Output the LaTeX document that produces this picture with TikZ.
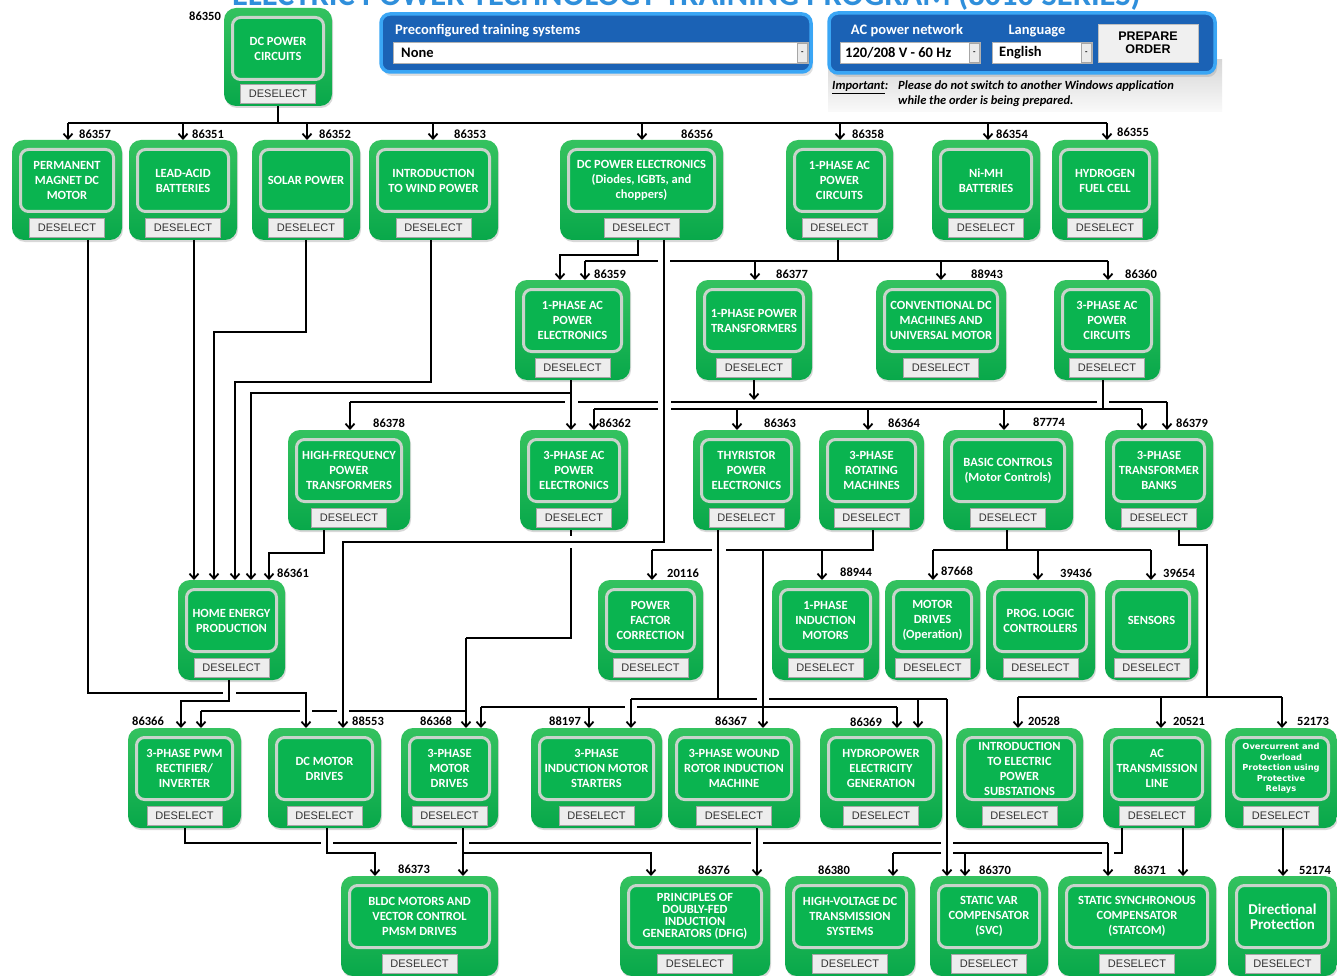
\documentclass[tikz,border=0pt]{standalone}
\usepackage{fontspec}
\setmainfont{Carlito}
\newfontfamily\arialfont{Liberation Sans}
\newfontfamily\dejafont{DejaVu Sans}
\usetikzlibrary{arrows.meta,shadows}

\definecolor{boxtop}{HTML}{34C25F}
\definecolor{boxbot}{HTML}{08A84A}
\definecolor{panelgreen}{HTML}{0AB450}
\definecolor{panelrim}{HTML}{C9D3CB}
\definecolor{bluedeep}{HTML}{1B62B5}
\definecolor{blueedge}{HTML}{3AA6F5}
\definecolor{titleblue}{HTML}{2F8FDB}
\definecolor{btngray}{HTML}{EDEDED}

\tikzset{
  outerbox/.style={rounded corners=12pt,top color=boxtop,bottom color=boxbot,inner sep=0pt,outer sep=0pt,
    drop shadow={shadow xshift=1pt,shadow yshift=-2pt,opacity=.3}},
  panel/.style={rounded corners=8pt,fill=panelgreen,draw=panelrim,line width=3pt,minimum height=62pt,inner sep=0pt},
  ctext/.style={text=white,font=\fontsize{12.5}{15}\selectfont\bfseries,align=center,inner sep=0pt},
  deselect/.style={fill=btngray,draw=black!35,line width=.5pt,minimum width=75pt,minimum height=19pt,inner sep=0pt,
    font=\arialfont\fontsize{11}{11}\selectfont,text=black!80},
  numlabel/.style={font=\fontsize{12.5}{12}\selectfont\bfseries,inner sep=0pt},
  wire/.style={line width=1.8pt},
  arr/.style={wire,-{Straight Barb[length=5pt,width=9pt]}},
  bluepanel/.style={rounded corners=9pt,fill=bluedeep,draw=blueedge,line width=3.5pt,
    drop shadow={shadow xshift=2pt,shadow yshift=-4pt,opacity=.25}},
  hdtext/.style={text=white,font=\fontsize{14.5}{15}\selectfont\bfseries,inner sep=0pt},
  combo/.style={fill=white,draw=black!30,line width=.6pt,minimum height=21pt,inner sep=0pt},
  combotext/.style={font=\fontsize{14.5}{15}\selectfont\bfseries,inner sep=0pt},
  dropbtn/.style={fill=black!8,draw=black!35,line width=.4pt,minimum width=10pt,minimum height=19pt,inner sep=0pt,
    font=\fontsize{8}{8}\selectfont\bfseries},
  orderbtn/.style={fill=black!6,draw=black!25,line width=.6pt,align=center,inner sep=0pt,
    font=\arialfont\fontsize{12.5}{13}\selectfont\bfseries},
  imptext/.style={font=\fontsize{12.5}{12}\selectfont\bfseries\itshape,inner sep=0pt}
}

%% one course block: [text options]{name}{x1}{y1}{x2}{y2}{title}{number}{number position}
\newcommand{\Course}[9][]{%
  \node[outerbox,minimum width={(#5-#3)*1pt},minimum height={(#6-#4)*1pt}] (#2) at ({(#3+#5)/2},{(#4+#6)/2}) {};
  \node[panel,minimum width={(#5-#3-17)*1pt},anchor=north] (#2-in) at ([yshift=-8pt]#2.north) {};
  \node[ctext,#1] (#2-txt) at (#2-in) {#7};
  \node[deselect] (#2-btn) at ([yshift=12pt]#2.south) {DESELECT};
  \node[numlabel] (#2-no) at (#9) {#8};
}

\begin{document}
\begin{tikzpicture}[x=1pt,y=-1pt]
    \useasboundingbox[fill=white] (0,0) rectangle (1337,976);
    %% Title, cut by the top edge
    \node[font=\fontsize{32.5}{33}\selectfont\bfseries,text=titleblue,anchor=base west,inner sep=0pt] (title) at (232,6)
      {ELECTRIC POWER TECHNOLOGY TRAINING PROGRAM (8010 SERIES)};
    %% Preconfigured systems panel
    \node[bluepanel,minimum width=430pt,minimum height=58pt] (presys) at (596,43) {};
    \node[hdtext,anchor=west] (presys-t) at (395,31) {Preconfigured training systems};
    \node[combo,minimum width=415pt,anchor=north west] (presys-c) at (393,42) {};
    \node[combotext,anchor=west] (presys-v) at (401,53) {None};
    \node[dropbtn,anchor=east] (presys-d) at ([xshift=-1pt]presys-c.east) {-};
    %% Network / language panel
    \fill[top color=black!16,bottom color=black!2] (828,60) rectangle (1222,112);
    \node[bluepanel,minimum width=386pt,minimum height=60pt] (acnet) at (1022,43) {};
    \node[hdtext] (acnet-t) at (907,31) {AC power network};
    \node[hdtext] (lang-t) at (1037,31) {Language};
    \node[combo,minimum width=140pt,anchor=north west] (acnet-c) at (840,42) {};
    \node[combotext,anchor=west] (acnet-v) at (845,53) {120/208 V - 60 Hz};
    \node[dropbtn,anchor=east] (acnet-d) at ([xshift=-1pt]acnet-c.east) {-};
    \node[combo,minimum width=100pt,anchor=north west] (lang-c) at (992,42) {};
    \node[combotext,anchor=west] (lang-v) at (999,53) {English};
    \node[dropbtn,anchor=east] (lang-d) at ([xshift=-1pt]lang-c.east) {-};
    \node[orderbtn,minimum width=100pt,minimum height=38pt] (order) at (1148,43) {PREPARE\\ORDER};
    \node[imptext,anchor=base west] (imp) at (832,90) {\underline{Important}:};
    \node[imptext,anchor=base west] (imp1) at (898,90) {Please do not switch to another Windows application};
    \node[imptext,anchor=base west] (imp2) at (898,105) {while the order is being prepared.};

    %% Courses
    \Course{dcpc}{224}{8}{332}{106}{DC POWER\\CIRCUITS}{86350}{205,16}
    \Course{pmdc}{12}{140}{122}{240}{PERMANENT\\MAGNET DC\\MOTOR}{86357}{95,134}
    \Course{lead}{129}{140}{237}{240}{LEAD-ACID\\BATTERIES}{86351}{208,134}
    \Course{solar}{252}{140}{360}{240}{SOLAR POWER}{86352}{335,134}
    \Course{wind}{369}{140}{498}{240}{INTRODUCTION\\TO WIND POWER}{86353}{470,134}
    \Course{dcpe}{560}{140}{723}{240}{DC POWER ELECTRONICS\\(Diodes, IGBTs, and\\choppers)}{86356}{697,134}
    \Course{acpc1}{786}{140}{893}{240}{1-PHASE AC\\POWER\\CIRCUITS}{86358}{868,134}
    \Course{nimh}{932}{140}{1040}{240}{Ni-MH\\BATTERIES}{86354}{1012,134}
    \Course{fuel}{1052}{140}{1158}{240}{HYDROGEN\\FUEL CELL}{86355}{1133,132}

    \Course{pe1}{515}{280}{630}{380}{1-PHASE AC\\POWER\\ELECTRONICS}{86359}{610,274}
    \Course{tr1}{696}{280}{812}{380}{1-PHASE POWER\\TRANSFORMERS}{86377}{792,274}
    \Course{dcm}{876}{280}{1006}{380}{CONVENTIONAL DC\\MACHINES AND\\UNIVERSAL MOTOR}{88943}{987,274}
    \Course{acpc3}{1054}{280}{1160}{380}{3-PHASE AC\\POWER\\CIRCUITS}{86360}{1141,274}

    \Course{hf}{288}{430}{410}{530}{HIGH-FREQUENCY\\POWER\\TRANSFORMERS}{86378}{389,423}
    \Course{pe3}{520}{430}{628}{530}{3-PHASE AC\\POWER\\ELECTRONICS}{86362}{615,423}
    \Course{thy}{693}{430}{800}{530}{THYRISTOR\\POWER\\ELECTRONICS}{86363}{780,423}
    \Course{rot}{819}{430}{924}{530}{3-PHASE\\ROTATING\\MACHINES}{86364}{904,423}
    \Course{basic}{943}{430}{1073}{530}{BASIC CONTROLS\\(Motor Controls)}{87774}{1049,422}
    \Course{tb}{1105}{430}{1213}{530}{3-PHASE\\TRANSFORMER\\BANKS}{86379}{1192,423}

    \Course{home}{178}{580}{285}{680}{HOME ENERGY\\PRODUCTION}{86361}{293,573}
    \Course{pfc}{598}{580}{703}{680}{POWER\\FACTOR\\CORRECTION}{20116}{683,573}
    \Course{im1}{772}{580}{879}{680}{1-PHASE\\INDUCTION\\MOTORS}{88944}{856,572}
    \Course{md}{885}{580}{980}{680}{MOTOR\\DRIVES\\(Operation)}{87668}{957,571}
    \Course{plc}{986}{580}{1095}{680}{PROG. LOGIC\\CONTROLLERS}{39436}{1076,573}
    \Course{sens}{1105}{580}{1198}{680}{SENSORS}{39654}{1179,573}

    \Course{pwm}{128}{728}{241}{828}{3-PHASE PWM\\RECTIFIER/\\INVERTER}{86366}{148,721}
    \Course{dcmd}{268}{728}{381}{828}{DC MOTOR\\DRIVES}{88553}{368,721}
    \Course{md3}{401}{728}{498}{828}{3-PHASE\\MOTOR\\DRIVES}{86368}{436,721}
    \Course{ims}{531}{728}{662}{828}{3-PHASE\\INDUCTION MOTOR\\STARTERS}{88197}{565,721}
    \Course{wr}{668}{728}{800}{828}{3-PHASE WOUND\\ROTOR INDUCTION\\MACHINE}{86367}{731,721}
    \Course{hyd}{820}{728}{942}{828}{HYDROPOWER\\ELECTRICITY\\GENERATION}{86369}{866,722}
    \Course{sub}{956}{728}{1083}{828}{INTRODUCTION\\TO ELECTRIC\\POWER\\SUBSTATIONS}{20528}{1044,721}
    \Course{actl}{1103}{728}{1211}{828}{AC\\TRANSMISSION\\LINE}{20521}{1189,721}
    \Course[font=\dejafont\fontsize{8.3}{10.5}\selectfont\bfseries]{ovc}{1225}{728}{1337}{828}{Overcurrent and\\Overload\\Protection using\\Protective\\Relays}{52173}{1313,721}

    \Course{bldc}{341}{876}{498}{976}{BLDC MOTORS AND\\VECTOR CONTROL\\PMSM DRIVES}{86373}{414,869}
    \Course[font=\fontsize{12.5}{12}\selectfont\bfseries]{dfig}{620}{876}{770}{976}{PRINCIPLES OF\\DOUBLY-FED\\INDUCTION\\GENERATORS (DFIG)}{86376}{714,870}
    \Course{hvdc}{785}{876}{915}{976}{HIGH-VOLTAGE DC\\TRANSMISSION\\SYSTEMS}{86380}{834,870}
    \Course{svc}{930}{876}{1048}{976}{STATIC VAR\\COMPENSATOR\\(SVC)}{86370}{995,870}
    \Course{stat}{1058}{876}{1216}{976}{STATIC SYNCHRONOUS\\COMPENSATOR\\(STATCOM)}{86371}{1150,870}
    \Course[font=\fontsize{15}{15}\selectfont\bfseries]{dir}{1228}{876}{1337}{976}{Directional\\Protection}{52174}{1315,870}

    %% Top bus
    \draw[wire,line width=2.4pt] (dcpc.south) -- (278,123);
    \draw[wire,line width=2.2pt] (68,123) -- (1107,123);
    \foreach \n/\x in {pmdc/68,lead/183,solar/307,wind/433,dcpe/642,acpc1/840,nimh/988,fuel/1107}
      \draw[arr] (\x,123) -- (\n.north -| \x,0);

    %% Second row feeds
    \draw[arr] (dcpe.south -| 638,0) |- (560,255) -- (pe1.north -| 560,0);
    \draw[arr] (dcpe.south -| 664,0) |- (343,542) -- (dcmd.north -| 343,0);
    \draw[wire] (acpc1.south -| 838,0) -- (838,261);
    \draw[wire] (585,261) -- (658,261) (670,261) -- (1108,261);
    \foreach \n/\x in {pe1/585,tr1/755,dcm/941,acpc3/1108}
      \draw[arr] (\x,261) -- (\n.north -| \x,0);

    %% Into home energy production
    \draw[arr] (lead.south -| 194,0) -- (home.north -| 194,0);
    \draw[arr] (solar.south -| 306,0) |- (214,332) -- (home.north -| 214,0);
    \draw[arr] (wind.south -| 431,0) |- (235,382) -- (home.north -| 235,0);
    \draw[arr] (pe1.south -| 571,0) -- (pe3.north -| 571,0);
    \draw[arr] (571,393) -| (home.north -| 251,0);
    \draw[arr] (hf.south -| 324,0) |- (269,553) -- (home.north -| 269,0);

    %% Transformer and 3-phase buses
    \draw[arr] (tr1.south -| 754,0) -- (754,400);
    \draw[wire] (350,402) -- (565,402) (578,402) -- (658,402) (671,402) -- (1097,402) (1109,402) -- (1167,402);
    \draw[arr] (350,402) -- (hf.north -| 350,0);
    \draw[arr] (1167,402) -- (tb.north -| 1167,0);
    \draw[wire] (acpc3.south -| 1103,0) -- (1103,409);
    \draw[wire] (594,409) -- (658,409) (671,409) -- (1142,409);
    \foreach \n/\x in {pe3/594,thy/737,rot/868,basic/1004,tb/1142}
      \draw[arr] (\x,409) -- (\n.north -| \x,0);

    %% Third row feeds
    \draw[wire] (thy.south -| 718,0) -- (718,699);
    \draw[wire] (631,699) -- (757,699) (769,699) -- (947,699);
    \draw[arr] (631,699) -- (ims.north -| 631,0);
    \draw[arr] (918,699) -- (hyd.north -| 918,0);
    \draw[arr] (947,699) -- (svc.north -| 947,0);
    \draw[wire] (rot.south -| 873,0) |- (726,550);
    \draw[wire] (712,550) -- (652,550);
    \draw[arr] (652,550) -- (pfc.north -| 652,0);
    \draw[arr] (822,550) -- (im1.north -| 822,0);
    \draw[arr] (763,550) -- (wr.north -| 763,0);
    \draw[wire] (481,707) -- (625,707) (637,707) -- (897,707);
    \foreach \n/\x in {md3/481,ims/589,hyd/897}
      \draw[arr] (\x,707) -- (\n.north -| \x,0);
    \draw[wire] (basic.south -| 1007,0) -- (1007,550);
    \draw[wire] (933,550) -- (1151,550);
    \foreach \n/\x in {md/933,plc/1038,sens/1151}
      \draw[arr] (\x,550) -- (\n.north -| \x,0);
    \draw[wire] (tb.south -| 1179,0) |- (1207,545) -- (1207,697);
    \draw[wire] (1018,697) -- (1282,697);
    \foreach \n/\x in {sub/1018,actl/1161,ovc/1282}
      \draw[arr] (\x,697) -- (\n.north -| \x,0);
    \draw[wire] (pe3.south -| 571,0) -- (571,536) (571,548) |- (466,638);
    \draw[arr] (466,638) -- (md3.north -| 466,0);
    \draw[wire] (466,711) -- (349,711) (337,711) -- (312,711) (300,711) -- (201,711);
    \draw[arr] (201,711) -- (pwm.north -| 201,0);

    %% Fourth row feeds
    \draw[wire] (pmdc.south -| 88,0) |- (223,693);
    \draw[arr] (236,693) -| (dcmd.north -| 306,0);
    \draw[arr] (home.south -| 229,0) |- (181,701) -- (pwm.north -| 181,0);

    %% Bottom row feeds
    \draw[wire] (pwm.south -| 185,0) |- (321,843);
    \draw[wire] (333,843) -- (457,843) (469,843) -- (751,843) (763,843) -- (941,843) (953,843) -- (1108,843);
    \draw[arr] (1108,843) -- (stat.north -| 1108,0);
    \draw[arr] (dcmd.south -| 327,0) |- (375,853) -- (bldc.north -| 375,0);
    \draw[arr] (md3.south -| 463,0) -- (bldc.north -| 463,0);
    \draw[arr] (463,853) -| (dfig.north -| 651,0);
    \draw[arr] (wr.south -| 757,0) -- (dfig.north -| 757,0);
    \draw[wire] (actl.south -| 1122,0) |- (1114,853);
    \draw[wire] (1102,853) -- (953,853) (941,853) -- (893,853);
    \draw[arr] (893,853) -- (hvdc.north -| 893,0);
    \draw[arr] (965,853) -- (svc.north -| 965,0);
    \draw[arr] (actl.south -| 1183,0) -- (stat.north -| 1183,0);
    \draw[arr] (ovc.south -| 1283,0) -- (dir.north -| 1283,0);
\end{tikzpicture}
\end{document}
